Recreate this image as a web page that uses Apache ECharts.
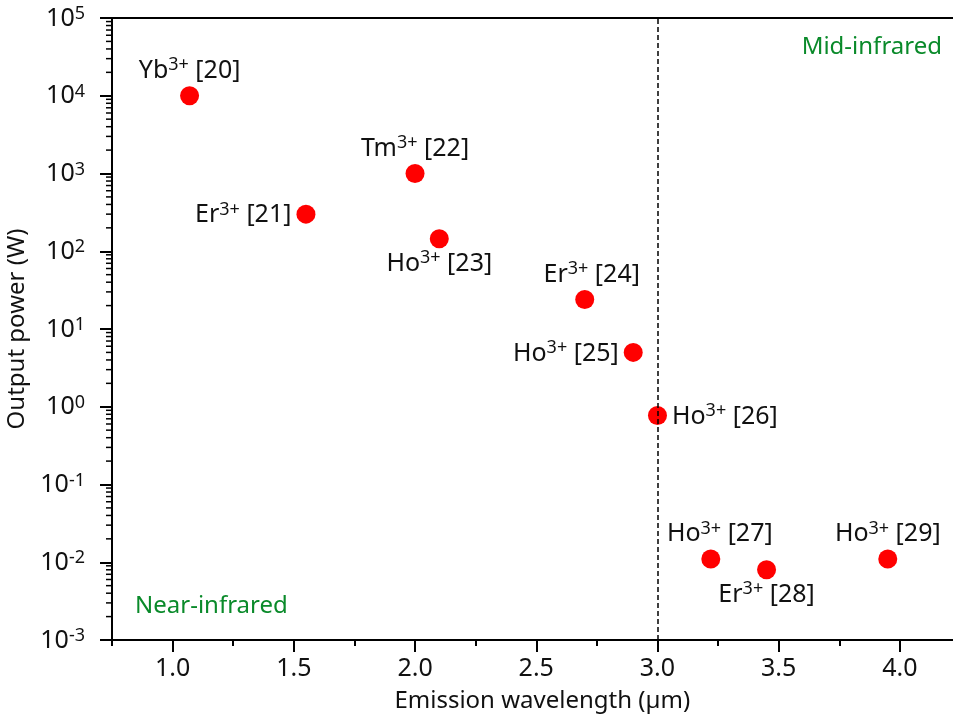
<!DOCTYPE html>
<html>
<head>
<meta charset="utf-8">
<script src="https://cdn.jsdelivr.net/npm/echarts@6/dist/echarts.min.js"></script>
<style>
  html, body { margin: 0; padding: 0; background: #fff; }
  #chart { width: 953px; height: 717px; }
</style>
</head>
<body>
<div id="chart"></div>
<script>
// Rare-earth doped fibre lasers: emission wavelength vs. output power
const ions        = ['Yb', 'Er', 'Tm', 'Ho', 'Er', 'Ho', 'Ho', 'Ho', 'Er', 'Ho'];
const charges     = ['3+', '3+', '3+', '3+', '3+', '3+', '3+', '3+', '3+', '3+'];
const refs        = [20, 21, 22, 23, 24, 25, 26, 27, 28, 29];
const wavelengths = [1.07, 1.55, 2.0, 2.1, 2.7, 2.9, 3.0, 3.22, 3.45, 3.95];   // µm
const powers      = [10000, 300, 1000, 145, 24, 5, 0.77, 0.011, 0.008, 0.011]; // W

const xTickValues   = [1.0, 1.5, 2.0, 2.5, 3.0, 3.5, 4.0];
const xMinorValues  = [0.75, 1.25, 1.75, 2.25, 2.75, 3.25, 3.75, 4.25];
const yDecades      = [-3, -2, -1, 0, 1, 2, 3, 4, 5];
const boundaryWavelength = 3.0;
const regionNames   = ['Mid-infrared', 'Near-infrared'];

// where each point's tag sits relative to its dot
const labelSide  = ['top', 'left', 'top', 'bottom', 'top', 'left', 'right', 'top', 'bottom', 'top'];
const labelShift = [[0, 0], [0, 0], [0, 0], [0, 0], [7, 0], [0, 0], [0, 0], [9, 0], [0, 0], [0, 0]];

const FONT = 'Noto Sans';
const INK = '#111';
const GREEN = '#0a8a2a';
const X_MIN = 0.75, X_MAX = 4.25;

// minor log ticks: 2..9 x 10^n inside every decade
const yMinorValues = [];
for (let d = yDecades[0]; d < yDecades[yDecades.length - 1]; d++) {
  for (let k = 2; k <= 9; k++) yMinorValues.push(parseFloat((k * Math.pow(10, d)).toPrecision(3)));
}

const chart = echarts.init(document.getElementById('chart'), null, { renderer: 'canvas' });

const pointLabelRich = {
  n: { fontFamily: FONT, fontSize: 25, lineHeight: 27, color: INK, verticalAlign: 'bottom' },
  s: { fontFamily: FONT, fontSize: 18, lineHeight: 18, color: INK, verticalAlign: 'top', padding: [0, 0, 3, 0] }
};

const tickLabelRich = {
  b: { fontFamily: FONT, fontSize: 25, lineHeight: 26, color: INK, verticalAlign: 'bottom' },
  s: { fontFamily: FONT, fontSize: 18, lineHeight: 18, color: INK, verticalAlign: 'top', padding: [0, 0, 12, 0] }
};

const option = {
  animation: false,
  backgroundColor: '#fff',
  grid: {
    left: 112, top: 18, width: 848.5, height: 622,
    containLabel: false, outerBoundsMode: 'none'
  },
  xAxis: [
    {
      type: 'value', min: X_MIN, max: X_MAX, position: 'bottom',
      name: 'Emission wavelength (\u00b5m)', nameLocation: 'middle', nameGap: 49,
      nameTextStyle: { fontFamily: FONT, fontSize: 24, color: INK, padding: [0, 0, 0, 12] },
      splitLine: { show: false },
      axisLine: { show: true, onZero: false, lineStyle: { color: '#000', width: 2 } },
      axisTick: { show: true, customValues: xTickValues, length: 12, lineStyle: { color: '#000', width: 2 } },
      axisLabel: {
        show: true, customValues: xTickValues, margin: 16,
        fontFamily: FONT, fontSize: 25, color: INK,
        formatter: v => v.toFixed(1)
      }
    },
    {
      type: 'value', min: X_MIN, max: X_MAX, position: 'bottom',
      splitLine: { show: false },
      axisLine: { show: true, onZero: false, lineStyle: { color: '#000', width: 2 } },
      axisTick: { show: true, customValues: xMinorValues, length: 6, lineStyle: { color: '#000', width: 2 } },
      axisLabel: { show: false }
    },
    {
      // frame line along the top of the plot
      type: 'value', min: X_MIN, max: X_MAX, position: 'top',
      splitLine: { show: false },
      axisLine: { show: true, onZero: false, lineStyle: { color: '#000', width: 2 } },
      axisTick: { show: false },
      axisLabel: { show: false }
    }
  ],
  yAxis: [
    {
      type: 'log', logBase: 10, min: 0.001, max: 100000, position: 'left',
      name: 'Output power (W)', nameLocation: 'middle', nameGap: 70, nameRotate: 90,
      nameTextStyle: { fontFamily: FONT, fontSize: 24, color: INK },
      splitLine: { show: false },
      minorTick: { show: false },
      minorSplitLine: { show: false },
      axisLine: { show: true, onZero: false, lineStyle: { color: '#000', width: 2 } },
      axisTick: { show: true, length: 12, lineStyle: { color: '#000', width: 2 } },
      axisLabel: {
        show: true, margin: 27,
        formatter: v => '{b|10}{s|' + Math.round(Math.log10(v)) + '}',
        rich: tickLabelRich
      }
    }
  ],
  series: [
    {
      // short outward ticks at the log minor positions along the left axis
      type: 'custom',
      xAxisIndex: 0, yAxisIndex: 0,
      silent: true, clip: false, z: 3,
      data: yMinorValues.map(v => [X_MIN, v]),
      renderItem: (params, api) => {
        const p = api.coord([api.value(0), api.value(1)]);
        return {
          type: 'line',
          shape: { x1: p[0] - 6, y1: p[1], x2: p[0], y2: p[1] },
          style: { stroke: '#000', lineWidth: 1.5 }
        };
      }
    },
    {
      type: 'scatter',
      xAxisIndex: 0, yAxisIndex: 0,
      symbol: 'circle', symbolSize: 19,
      itemStyle: { color: '#ff0000', opacity: 1 },
      label: {
        show: true,
        formatter: p => '{n|' + ions[p.dataIndex] + '}{s|' + charges[p.dataIndex] + '}{n| [' + refs[p.dataIndex] + ']}',
        rich: pointLabelRich
      },
      data: wavelengths.map((w, i) => ({
        value: [w, powers[i]],
        label: { position: labelSide[i], offset: labelShift[i], distance: labelSide[i] === 'top' ? 3 : (labelSide[i] === 'bottom' ? 1 : 5) }
      })),
      markLine: {
        silent: true, symbol: 'none', animation: false,
        label: { show: false },
        lineStyle: { color: '#000', width: 1.5, type: [5, 3] },
        data: [{ xAxis: boundaryWavelength }]
      }
    }
  ],
  graphic: [
    {
      type: 'text', right: 953 - 942, top: 35,
      style: { text: regionNames[0], font: '24px "' + FONT + '"', fill: GREEN }
    },
    {
      type: 'text', left: 135, top: 594,
      style: { text: regionNames[1], font: '24px "' + FONT + '"', fill: GREEN }
    }
  ]
};

chart.setOption(option);
</script>
</body>
</html>
